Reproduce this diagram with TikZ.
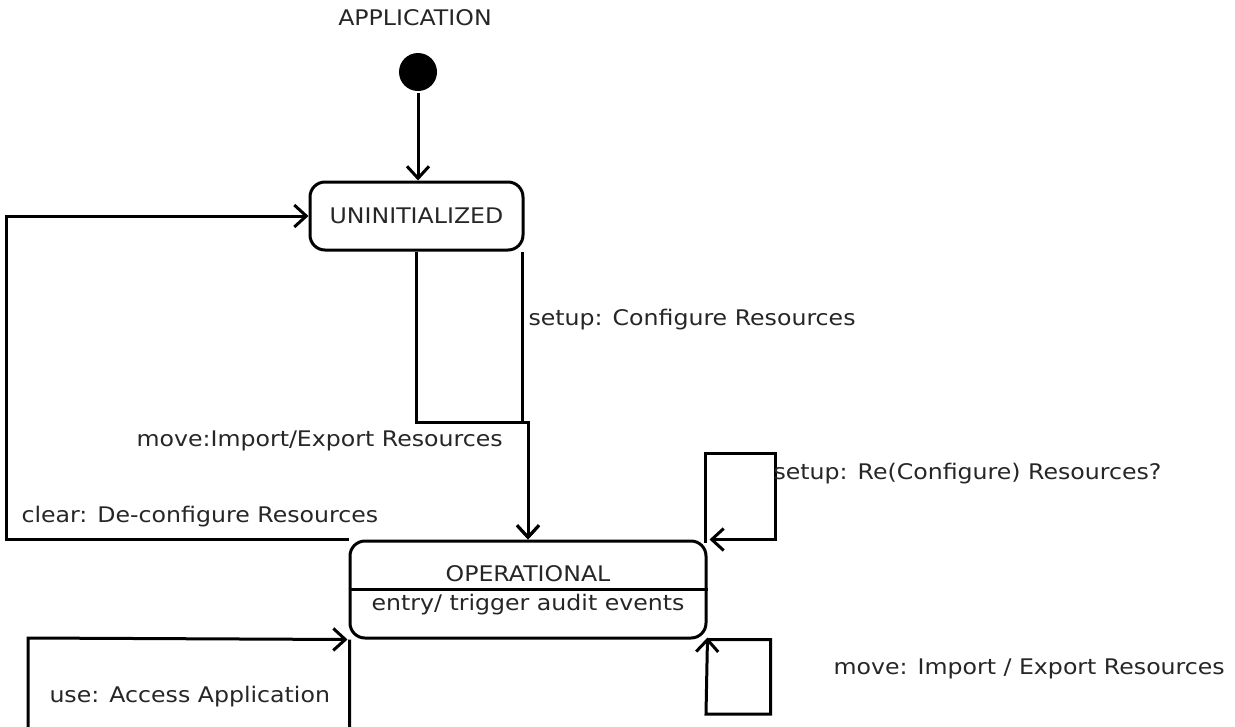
\documentclass[tikz,border=0pt]{standalone}
\usepackage{fontspec}
\setmainfont{DejaVu Sans}[FakeStretch=1.1]
\usetikzlibrary{arrows.meta}
\begin{document}
\begin{tikzpicture}[x=1pt,y=-1pt,
  line width=3pt,
  >={Straight Barb[length=12pt,width=22pt]},
  lbl/.style={font=\fontsize{21.5}{24}\selectfont,text=black!85,inner sep=0pt,anchor=west},
  statebox/.style={draw,rounded corners=15pt,inner sep=0pt},
  trans/.style={draw,->,line join=miter}]
\useasboundingbox (0,0) rectangle (1235,726);
\clip (0,0) rectangle (1235,726);

% title and initial pseudo-state
\node[lbl,anchor=center] (app) at (415,18) {APPLICATION};
\node[circle,fill=black,minimum size=38pt,inner sep=0pt] (init) at (418,72) {};

% states
\node[statebox,minimum width=213pt,minimum height=68pt] (uninit) at (416.5,216) {};
\node[lbl,anchor=center] (uninitT) at (416.5,216) {UNINITIALIZED};
\node[statebox,minimum width=356pt,minimum height=97pt] (op) at (528,589.5) {};
\draw[line width=2.5pt] (op.west) -- (op.east);
\node[lbl,anchor=center] (opT) at (528,574) {OPERATIONAL};
\node[lbl,anchor=center] (opE) at (528,605) {entry/ trigger audit events};

% initial transition
\draw[trans] (init.south) -- (init.south |- uninit.north);

% setup and move: UNINITIALIZED -> OPERATIONAL
\coordinate (merge) at (528,422);
\draw[trans] ([xshift=-0.5pt]uninit.south) |- (merge) -- (merge |- op.north);
\draw[trans] ([xshift=-2pt]uninit.south east) |- (merge) -- (merge |- op.north);
\node[lbl] (setupL) at (527,320) {setup: Configure Resources};
\node[lbl] (moveL) at (135,441) {move:Import/Export Resources};

% clear: OPERATIONAL -> UNINITIALIZED
\draw[trans] (op.north west) -- ++(-342,0) |- (uninit.west);
\node[lbl] (clearL) at (20,517) {clear: De-configure Resources};

% self transitions on OPERATIONAL
\draw[trans] ([yshift=-3pt]op.north east) ++(-2,0) |- (775,453) |- ([xshift=2pt]op.north east);
\node[lbl] (resetL) at (772,474) {setup: Re(Configure) Resources?};

\draw[trans] (op.south east) -- ++(63,0) |- (706,714) -- ([yshift=2pt]op.south east);
\node[lbl] (moveL2) at (832,669) {move: Import / Export Resources};

\draw[trans] ([xshift=1pt]op.south west) -- ++(0,120) -| (28,638) -- ([xshift=-1pt]op.south west);
\node[lbl] (useL) at (48,697) {use: Access Application};
\end{tikzpicture}
\end{document}
